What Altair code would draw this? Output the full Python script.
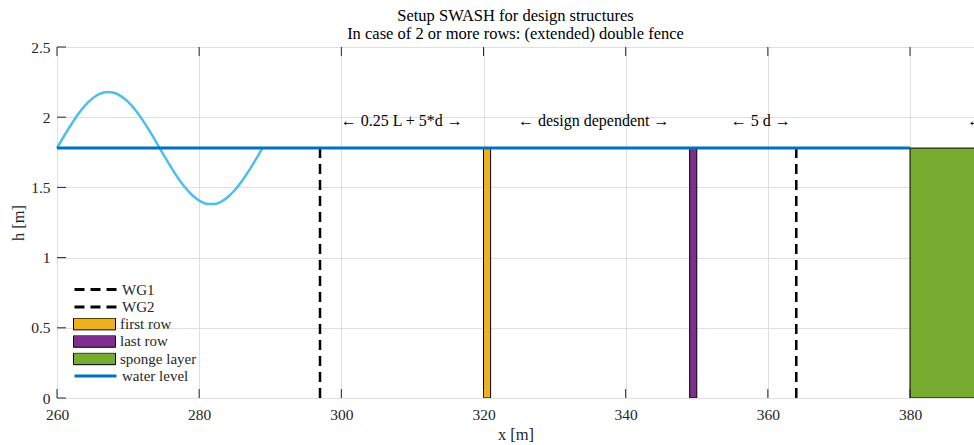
import altair as alt
import pandas as pd

FONT = "Liberation Serif"
TXT = "#262626"

# ---------------- data ----------------
wave_x = [260, 261, 262, 263, 264, 265, 266, 267, 268, 269, 270, 271, 272, 273, 274,
          275, 276, 277, 278, 279, 280, 281, 282, 283, 284, 285, 286, 287, 288, 288.9]
wave_y = [1.780, 1.866, 1.948, 2.023, 2.086, 2.134, 2.166, 2.180, 2.174, 2.150, 2.109,
          2.053, 1.983, 1.904, 1.819, 1.732, 1.648, 1.569, 1.501, 1.446, 1.406, 1.384,
          1.381, 1.396, 1.430, 1.480, 1.544, 1.619, 1.702, 1.780]

water_level = 1.78
wl_x0 = [260]
wl_x1 = [380]
wl_names = ["water level"]

gauge_names = ["WG1", "WG2"]
gauge_x = [297, 364]

struct_names = ["first row", "last row", "sponge layer"]
struct_x0 = [320, 349, 380]
struct_x1 = [321, 350, 390]
struct_colors = ["#EDB120", "#7E2F8E", "#77AC30"]

note_text = ["← 0.25 L + 5*d →", "← design dependent →", "← 5 d →", "← sponge layer →"]
note_x = [308.5, 335.5, 359.0, 396.6]
note_y = [1.975, 1.975, 1.975, 1.975]

x_ticks = [260, 280, 300, 320, 340, 360, 380]
y_ticks = [0, 0.5, 1, 1.5, 2, 2.5]

# ---------------- tables ----------------
wave_df = pd.DataFrame({"x": wave_x, "y": wave_y})
wl_df = pd.DataFrame({"x0": wl_x0, "x1": wl_x1, "y": [water_level], "name": wl_names})
gauge_df = pd.DataFrame({"x": gauge_x, "y0": [0] * len(gauge_x),
                         "y1": [water_level] * len(gauge_x), "name": gauge_names})
struct_df = pd.DataFrame({"x0": struct_x0, "x1": struct_x1, "y0": [0] * 3,
                          "y1": [water_level] * 3, "name": struct_names})
note_df = pd.DataFrame({"x": note_x, "y": note_y, "t": note_text})
xt_df = pd.DataFrame({"v": x_ticks})
yt_df = pd.DataFrame({"v": y_ticks})

W, H = 917, 351
xs = alt.Scale(domain=[260, 389], nice=False, zero=False)
ys = alt.Scale(domain=[0, 2.5], nice=False, zero=False)

x_axis = alt.Axis(values=x_ticks, grid=True, gridColor="#dfdfdf", gridWidth=1,
                  ticks=False, domain=False, labelFont=FONT, labelFontSize=15.5,
                  labelColor=TXT, labelPadding=9, labelFlush=False, labelOverlap=False,
                  format="d", title="x [m]", titleFont=FONT, titleFontSize=16.5,
                  titleFontWeight="normal", titleColor=TXT, titlePadding=4)
y_axis = alt.Axis(values=y_ticks, grid=True, gridColor="#dfdfdf", gridWidth=1,
                  ticks=False, domain=False, labelFont=FONT, labelFontSize=15.5,
                  labelColor=TXT, labelPadding=7, labelFlush=False, labelOverlap=False,
                  format="~g", title="h [m]", titleFont=FONT, titleFontSize=16.5,
                  titleFontWeight="normal", titleColor=TXT, titlePadding=4)

legend_common = dict(orient="none", direction="vertical", title=None, padding=0,
                     labelFont=FONT, labelFontSize=15, labelColor=TXT, labelOffset=4,
                     clipHeight=12, rowPadding=2.4)

wave = alt.Chart(wave_df).mark_line(color="#4DBEEE", strokeWidth=2.5, interpolate="monotone").encode(
    x=alt.X("x:Q", scale=xs, axis=x_axis),
    y=alt.Y("y:Q", scale=ys, axis=y_axis),
)

structs = alt.Chart(struct_df).mark_rect(stroke="black", strokeWidth=1, clip=True).encode(
    x=alt.X("x0:Q", scale=xs, axis=x_axis),
    x2="x1:Q",
    y=alt.Y("y0:Q", scale=ys, axis=y_axis),
    y2="y1:Q",
    fill=alt.Fill("name:N",
                  scale=alt.Scale(domain=struct_names, range=struct_colors),
                  legend=alt.Legend(symbolType="M-1,-0.28L1,-0.28L1,0.28L-1,0.28Z",
                                    symbolSize=1764, symbolStrokeColor="black",
                                    symbolStrokeWidth=1, symbolOpacity=1,
                                    legendX=16, legendY=271, **legend_common)),
)

gauges = alt.Chart(gauge_df).mark_rule(color="black", strokeWidth=2.5).encode(
    x=alt.X("x:Q", scale=xs, axis=x_axis),
    y=alt.Y("y0:Q", scale=ys, axis=y_axis),
    y2="y1:Q",
    strokeDash=alt.StrokeDash("name:N",
                              scale=alt.Scale(domain=gauge_names, range=[[10, 6], [10, 6]]),
                              legend=alt.Legend(symbolType="stroke", symbolSize=1764,
                                                symbolStrokeColor="black",
                                                symbolStrokeWidth=3,
                                                legendX=16, legendY=236.5, **legend_common)),
)

water = alt.Chart(wl_df).mark_rule(strokeWidth=3).encode(
    x=alt.X("x0:Q", scale=xs, axis=x_axis),
    x2="x1:Q",
    y=alt.Y("y:Q", scale=ys, axis=y_axis),
    stroke=alt.Stroke("name:N",
                      scale=alt.Scale(domain=wl_names, range=["#0072BD"]),
                      legend=alt.Legend(symbolType="stroke", symbolSize=1764,
                                        symbolStrokeWidth=3,
                                        legendX=16, legendY=323, **legend_common)),
)

notes = alt.Chart(note_df).mark_text(font=FONT, fontSize=16, color="black",
                                     baseline="middle", align="center").encode(
    x=alt.X("x:Q", scale=xs, axis=x_axis),
    y=alt.Y("y:Q", scale=ys, axis=y_axis),
    text="t:N",
)

xt_bottom = alt.Chart(xt_df).mark_rule(color=TXT, strokeWidth=1).encode(
    x=alt.X("v:Q", scale=xs, axis=x_axis), y=alt.value(H), y2=alt.value(H - 9))
xt_top = alt.Chart(xt_df).mark_rule(color=TXT, strokeWidth=1).encode(
    x=alt.X("v:Q", scale=xs, axis=x_axis), y=alt.value(0), y2=alt.value(9))
yt_left = alt.Chart(yt_df).mark_rule(color=TXT, strokeWidth=1).encode(
    y=alt.Y("v:Q", scale=ys, axis=y_axis), x=alt.value(0), x2=alt.value(9))

chart = alt.layer(
    wave, gauges, structs, water, notes, xt_bottom, xt_top, yt_left
).resolve_legend(
    fill="independent", stroke="independent", strokeDash="independent"
).properties(
    width=W, height=H,
    autosize=alt.AutoSizeParams(type="none"),
    padding={"left": 57, "top": 47, "right": 0, "bottom": 47},
    title=alt.TitleParams(
        text=["Setup SWASH for design structures",
              "In case of 2 or more rows: (extended) double fence"],
        font=FONT, fontSize=16.5, fontWeight="normal", color="black",
        anchor="middle", lineHeight=18, offset=-2),
).configure_view(stroke="black", strokeWidth=1).configure(background="white")

chart.save("out.html", embed_options={"renderer": "svg", "actions": False})
